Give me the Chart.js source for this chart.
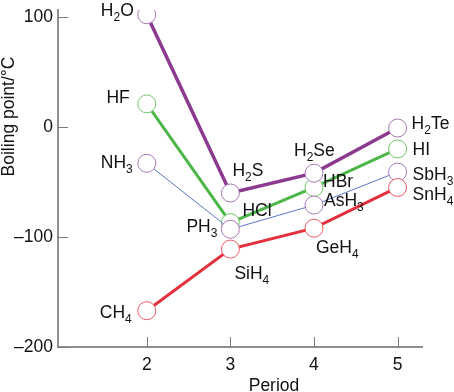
<!DOCTYPE html>
<html>
<head>
<meta charset="utf-8">
<script src="https://cdn.jsdelivr.net/npm/chart.js@4.4.0/dist/chart.umd.min.js"></script>
<style>
  html, body { margin: 0; padding: 0; background: #fff; }
  #wrap { width: 454px; height: 392px; }
</style>
</head>
<body>
<div id="wrap"><canvas id="chart"></canvas></div>
<script>
// periods on the x axis, boiling points (°C) per group
const periods = [2, 3, 4, 5];
const yTicks = [-200, -100, 0, 100];

const group14Names = ['CH4', 'SiH4', 'GeH4', 'SnH4'];
const group14Values = [-167, -111, -92, -55];
const group15Names = ['NH3', 'PH3', 'AsH3', 'SbH3'];
const group15Values = [-33, -93, -71, -41];
const group16Names = ['H2O', 'H2S', 'H2Se', 'H2Te'];
const group16Values = [102, -60, -42, -1];
const group17Names = ['HF', 'HCl', 'HBr', 'HI'];
const group17Values = [21, -87, -55, -20];

const FONT = "'Liberation Sans', Arial, Helvetica, sans-serif";
const SIZE = 17.5;

// label placement next to each point: [dx, dy to baseline, align]
const group14Spots = [[-15, 7, 'right'], [4, 30, 'left'], [2, 25, 'left'], [15, 13, 'left']];
const group15Spots = [[-14, 5, 'right'], [-13, 3, 'right'], [10, 1, 'left'], [15, 8, 'left']];
const group16Spots = [[-13, 1, 'right'], [2, -17, 'left'], [-20, -17, 'left'], [14, 1, 'left']];
const group17Spots = [[-17, -1, 'right'], [12, -7, 'left'], [9, 0, 'left'], [15, 6, 'left']];

function toPoints(values) {
    return periods.map((p, i) => ({ x: p, y: values[i] }));
}

function series(names, values, spots, line, marker, width) {
    return {
        data: toPoints(values),
        names: names,
        spots: spots,
        borderColor: line,
        borderWidth: width,
        pointRadius: 9,
        pointBorderWidth: 1,
        pointBorderColor: marker,
        pointBackgroundColor: '#fff',
        tension: 0
    };
}

// draw a formula, digits become subscripts
function drawFormula(ctx, text, x, y, align) {
    const parts = text.split(/(\d+)/).filter(s => s.length);
    const big = SIZE + 'px ' + FONT, small = '12px ' + FONT;
    let total = 0;
    parts.forEach(s => {
        ctx.font = /\d/.test(s) ? small : big;
        total += ctx.measureText(s).width;
    });
    let cx = align === 'right' ? x - total : x;
    ctx.textAlign = 'left';
    ctx.textBaseline = 'alphabetic';
    parts.forEach(s => {
        const sub = /\d/.test(s);
        ctx.font = sub ? small : big;
        ctx.fillText(s, cx, sub ? y + 5 : y);
        cx += ctx.measureText(s).width;
    });
}

const decorations = {
    id: 'decorations',
    afterDraw(chart) {
        const ctx = chart.ctx;
        const area = chart.chartArea;
        const xs = chart.scales.x, ys = chart.scales.y;
        ctx.save();

        // inward tick marks
        ctx.strokeStyle = '#7a7a7a';
        ctx.lineWidth = 1;
        ys.ticks.forEach(t => {
            const py = Math.round(ys.getPixelForValue(t.value)) + 0.5;
            ctx.beginPath();
            ctx.moveTo(area.left, py);
            ctx.lineTo(area.left + 10, py);
            ctx.stroke();
        });
        xs.ticks.forEach(t => {
            const px = Math.round(xs.getPixelForValue(t.value)) + 0.5;
            ctx.beginPath();
            ctx.moveTo(px, area.bottom);
            ctx.lineTo(px, area.bottom - 10);
            ctx.stroke();
        });

        // point labels
        ctx.fillStyle = '#111';
        chart.data.datasets.forEach((ds, i) => {
            const meta = chart.getDatasetMeta(i);
            meta.data.forEach((pt, j) => {
                const s = ds.spots[j];
                drawFormula(ctx, ds.names[j], pt.x + s[0], pt.y + s[1], s[2]);
            });
        });

        // axis titles
        ctx.font = SIZE + 'px ' + FONT;
        ctx.textBaseline = 'alphabetic';
        ctx.textAlign = 'center';
        ctx.fillText('Period', 274, 391);
        ctx.translate(13.5, 116.5);
        ctx.rotate(-Math.PI / 2);
        ctx.fillText('Boiling point/°C', 0, 0);
        ctx.restore();
    }
};

new Chart(document.getElementById('chart'), {
    type: 'line',
    data: {
        datasets: [
            series(group14Names, group14Values, group14Spots, '#e3303c', '#ea5a63', 3),
            series(group15Names, group15Values, group15Spots, '#5a76c4', '#a678b6', 1),
            series(group16Names, group16Values, group16Spots, '#8b3a90', '#a678b6', 3.5),
            series(group17Names, group17Values, group17Spots, '#4cb748', '#72c66c', 3)
        ]
    },
    options: {
        responsive: true,
        maintainAspectRatio: false,
        devicePixelRatio: 1,
        animation: false,
        layout: { padding: { left: 0, right: 32, top: 8, bottom: 0 } },
        plugins: { legend: { display: false }, tooltip: { enabled: false } },
        scales: {
            x: {
                type: 'linear',
                min: 0.938,
                max: 5.292,
                afterBuildTicks: s => { s.ticks = periods.map(v => ({ value: v })); },
                afterFit: s => { s.height = 45; },
                grid: { display: false, drawTicks: false },
                border: { display: true, color: '#8f8f8f', width: 2 },
                ticks: { padding: 8, color: '#111', font: { size: SIZE, family: FONT } }
            },
            y: {
                min: -200,
                max: 106.3,
                afterBuildTicks: s => { s.ticks = yTicks.map(v => ({ value: v })); },
                afterFit: s => { s.width = 58; s.paddingTop = 0; s.paddingBottom = 0; },
                grid: { display: false, drawTicks: false },
                border: { display: true, color: '#8f8f8f', width: 2 },
                ticks: {
                    padding: 5,
                    color: '#111',
                    font: { size: SIZE, family: FONT },
                    callback: v => v < 0 ? '\u2013' + Math.abs(v) : String(v)
                }
            }
        }
    },
    plugins: [decorations]
});
</script>
</body>
</html>
